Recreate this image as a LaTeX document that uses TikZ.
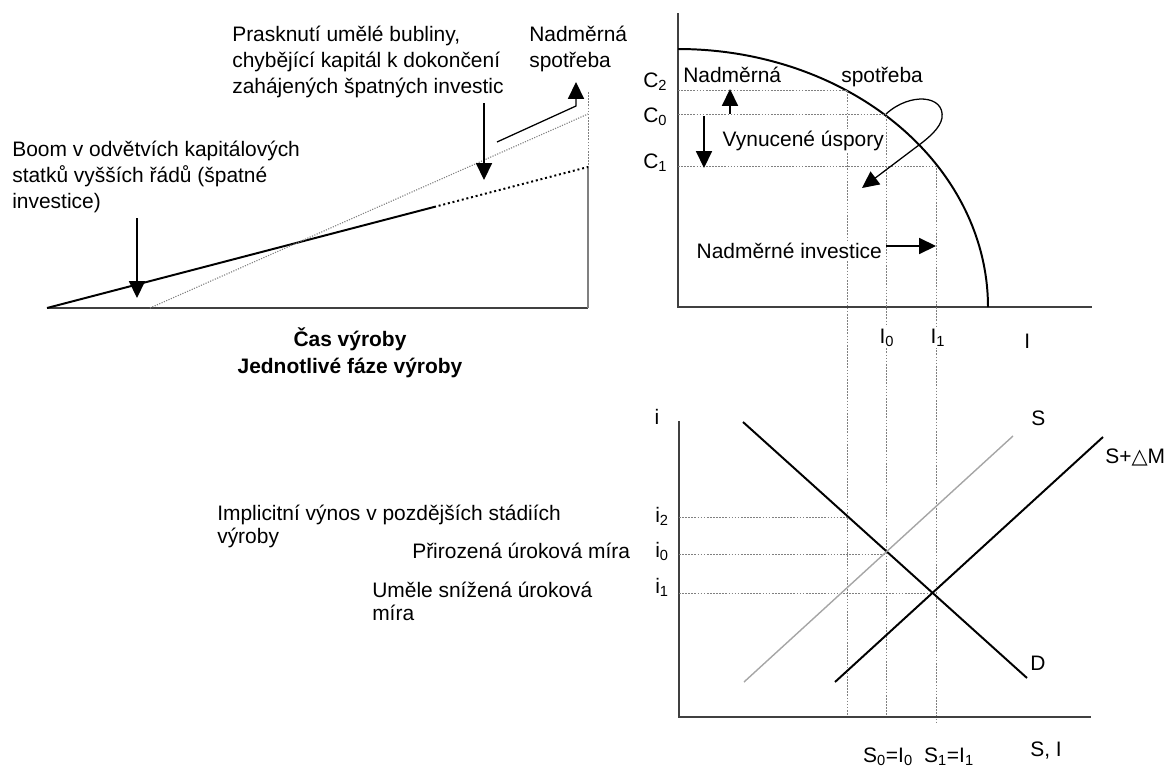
\documentclass[tikz,border=0pt]{standalone}
\usepackage{fontspec}
\setmainfont{Liberation Sans}
\newfontfamily\trifont{DejaVu Sans}
\usetikzlibrary{arrows.meta}
\tikzset{
	axis/.style   ={line width=1.3pt, black!75},
	curve/.style  ={line width=1.4pt},
	guide/.style  ={gray, line width=0.6pt, dash pattern=on 1.2pt off 1pt},
	pointer/.style={line width=0.9pt, -{Triangle[length=4.2mm, width=4mm]}},
	lbl/.style    ={inner sep=0pt, anchor=base west},
	note/.style   ={inner sep=0pt, anchor=north west, align=left},
	mask/.style   ={fill=white, inner sep=1pt},
}

\begin{document}
\begin{tikzpicture}[x=0.025cm, y=-0.025cm, font=\fontsize{14.9}{18.5}\selectfont]
	\useasboundingbox (0,0) rectangle (1172,770);
	% left panel: stages of production
	\draw[axis] (47,308) -- (588,308);
	\draw[axis, gray] (588,308) -- (588,168);
	\draw[guide] (588,168) -- (588,92);
	\draw[curve] (47,308) -- (434,207);
	\draw[curve, dotted] (434,207) -- (588,167);
	\draw[gray, densely dotted, line width=0.8pt] (150,308) -- (588,114);
	\draw[pointer] (137,218) -- (137,298);
	\draw[pointer] (484,103) -- (484,180);
	\draw[pointer] (497,142) -- (576,106) -- (576,82);
	\node[note] (boom) at (12,141) {Boom v odvětvích kapitálových\\statků vyšších řádů (špatné\\investice)};
	\node[note] (burst) at (232,26) {Prasknutí umělé bubliny,\\chybějící kapitál k dokončení\\zahájených špatných investic};
	\node[note] (overL) at (529,26) {Nadměrná\\spotřeba};
	\node[inner sep=0pt, anchor=north, align=center, font=\fontsize{14.9}{19.2}\selectfont\bfseries] (time) at (350,327) {Čas výroby\\Jednotlivé fáze výroby};

	% top right: production possibilities
	\draw[axis] (678,13) -- (678,307) -- (1092,307);
	\draw[curve] plot[domain=0:90, samples=60, smooth] ({678+310*cos(\x)}, {307-258*sin(\x)});
	\draw[guide] (678,90) -- (847,90) -- (847,717);
	\draw[guide] (678,114) -- (886,114) -- (886,717);
	\draw[guide] (678,166) -- (936,166) -- (936,722);
	\node[lbl] (c2) at (643,87) {C\textsubscript{2}};
	\node[lbl] (c0) at (643,122) {C\textsubscript{0}};
	\node[lbl] (c1) at (643,168) {C\textsubscript{1}};
	\node[lbl] (overR) at (683,82) {Nadměrná};
	\node[lbl] (cons) at (841,82) {spotřeba};
	\node[lbl, mask] (forced) at (721,146) {Vynucené úspory};
	\node[lbl, mask] (overI) at (695,258) {Nadměrné investice};
	\coordinate (invS) at (886,246);
	\coordinate (invE) at (936,246);
	\draw[pointer] (730,114) -- (730,89);
	\draw[pointer] (704,116) -- (704,168);
	\draw[pointer] (886,114) .. controls (910,92) and (945,95) .. (942,118) .. controls (940,128) and (930,137) .. (915,148) -- (862,188);
	\draw[pointer] (invS) -- (invE);
	\node[mask, anchor=base] (i0lab) at (887,343) {I\textsubscript{0}};
	\node[mask, anchor=base] (i1lab) at (938,343) {I\textsubscript{1}};
	\node[lbl] (ilab) at (1024,348) {I};

	% bottom right: loanable funds market
	\draw[axis] (679,421) -- (679,717) -- (1091,717);
	\draw[guide] (679,517) -- (847,517);
	\draw[guide] (679,554) -- (886,554);
	\draw[guide] (679,593) -- (936,593);
	\draw[curve] (743,422) -- (1027,678);
	\draw[gray!70, line width=1pt] (744,682) -- (1013,436);
	\draw[curve] (835,682) -- (1103,437);
	\node[inner sep=0pt, anchor=base] (rate) at (657,424) {i};
	\node[lbl] (r2) at (655,522) {i\textsubscript{2}};
	\node[lbl] (r0) at (655,557) {i\textsubscript{0}};
	\node[lbl] (r1) at (655,593) {i\textsubscript{1}};
	\node[lbl] (supply) at (1031,425) {S};
	\node[lbl] (supplyM) at (1105,463) {S+{\trifont △}M};
	\node[lbl] (demand) at (1030,670) {D};
	\node[lbl] (si) at (1030,756) {S, I};
	\node[inner sep=0pt, anchor=base] (eq0) at (888,762) {S\textsubscript{0}=I\textsubscript{0}};
	\node[inner sep=0pt, anchor=base] (eq1) at (949,762) {S\textsubscript{1}=I\textsubscript{1}};
	\node[note, font=\fontsize{14.9}{16.3}\selectfont] (implicit) at (217,505) {Implicitní výnos v pozdějších stádiích\\výroby};
	\node[lbl] (natural) at (412,558) {Přirozená úroková míra};
	\node[note, font=\fontsize{14.9}{16.3}\selectfont] (lowered) at (372,582) {Uměle snížená úroková\\míra};
\end{tikzpicture}
\end{document}
